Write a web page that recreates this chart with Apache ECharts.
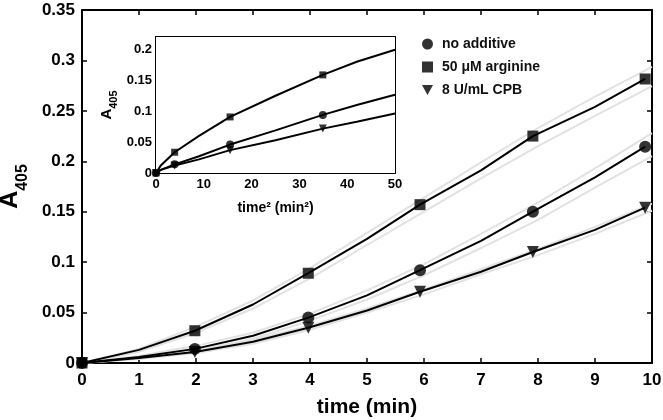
<!DOCTYPE html>
<html>
<head>
<meta charset="utf-8">
<script src="https://cdn.jsdelivr.net/npm/echarts@6/dist/echarts.min.js"></script>
<style>html,body{margin:0;padding:0;background:#fff}#c{width:663px;height:420px}</style>
</head>
<body>
<div id="c"></div>
<script>
// ---- main plot data (time in min, A405) ----
var markT = [0, 1.98, 3.97, 5.93, 7.91, 9.88];
var noAdd = [0, 0.014, 0.045, 0.092, 0.150, 0.2145];
var arg   = [0, 0.032, 0.089, 0.157, 0.225, 0.2816];
var cpb   = [0, 0.011, 0.035, 0.0707, 0.110, 0.154];

var lineT      = [0, 1, 1.98, 3, 3.97, 5, 5.93, 7, 7.91, 9, 9.88];
var noAddLine  = [0, 0.006, 0.014, 0.027, 0.045, 0.067, 0.092, 0.121, 0.150, 0.184, 0.2145];
var argLine    = [0, 0.013, 0.032, 0.058, 0.089, 0.123, 0.157, 0.191, 0.225, 0.254, 0.2816];
var cpbLine    = [0, 0.005, 0.011, 0.021, 0.035, 0.052, 0.0707, 0.0905, 0.110, 0.132, 0.154];

var bandT    = [0, 1, 2, 3, 4, 5, 6, 7, 8, 9, 10];
var argHi    = [0, 0.014, 0.036, 0.062, 0.094, 0.129, 0.164, 0.199, 0.233, 0.264, 0.2935];
var argLo    = [0, 0.011, 0.030, 0.054, 0.084, 0.117, 0.150, 0.183, 0.215, 0.245, 0.2746];
var noAddHi  = [0, 0.007, 0.017, 0.030, 0.049, 0.072, 0.098, 0.128, 0.159, 0.193, 0.228];
var noAddLo  = [0, 0.005, 0.012, 0.024, 0.042, 0.063, 0.087, 0.114, 0.142, 0.174, 0.205];
var cpbHi    = [0, 0.006, 0.013, 0.023, 0.037, 0.054, 0.073, 0.093, 0.113, 0.135, 0.158];
var cpbLo    = [0, 0.004, 0.010, 0.019, 0.033, 0.050, 0.068, 0.088, 0.107, 0.128, 0.151];

// ---- inset data (time^2 in min^2, A405) ----
var insT2      = [0, 3.9, 15.5, 34.9];
var insNoAdd   = [0, 0.014, 0.046, 0.094];
var insArg     = [0, 0.0336, 0.0907, 0.1587];
var insCpb     = [0, 0.012, 0.037, 0.0718];

var insLineT2    = [0, 1, 3.9, 9, 15.5, 25, 34.9, 42, 50];
var insNoAddLine = [0, 0.005, 0.014, 0.027, 0.046, 0.069, 0.094, 0.110, 0.1266];
var insArgLine   = [0, 0.012, 0.0336, 0.060, 0.0907, 0.125, 0.1587, 0.180, 0.1995];
var insCpbLine   = [0, 0.005, 0.012, 0.022, 0.037, 0.053, 0.0718, 0.083, 0.0962];

var names = ['no additive', '50 \u03bcM arginine', '8 U/mL CPB'];

function pairs(xs, ys){ return xs.map(function(x,i){ return [x, ys[i]]; }); }

var FONT = 'Liberation Sans, Arial, sans-serif';
var triPath = 'path://M0,0L10,0L5,9Z';

function axisCommon(show, fs, margin){
  return {
    axisLine: {show: true, onZero: false, lineStyle: {color: '#000', width: 2}},
    axisTick: {show: true, inside: true, length: 5, lineStyle: {color: '#000', width: 1.5}},
    axisLabel: {show: show, color: '#000', fontFamily: FONT, fontWeight: 'bold', fontSize: fs, margin: margin},
    splitLine: {show: false}
  };
}
function ax(extra, base){ return Object.assign({}, base, extra); }

function line(xi, yi, xs, ys, color, w, z){
  return {type: 'line', xAxisIndex: xi, yAxisIndex: yi, data: pairs(xs, ys), showSymbol: false, symbol: 'none',
    lineStyle: {color: color, width: w}, z: z, silent: true, animation: false};
}
function marks(name, xi, yi, xs, ys, symbol, size, rot){
  return {type: 'scatter', name: name, xAxisIndex: xi, yAxisIndex: yi, data: pairs(xs, ys), symbol: symbol,
    symbolSize: size, symbolRotate: rot || 0, itemStyle: {color: '#000'}, z: 5, animation: false};
}

var chart = echarts.init(document.getElementById('c'));
chart.setOption({
  animation: false,
  backgroundColor: '#fff',
  grid: [
    {left: 82, right: 11, top: 10, bottom: 57, containLabel: false, outerBoundsMode: 'none'},
    {left: 156, right: 268, top: 37, bottom: 247, containLabel: false, outerBoundsMode: 'none',
     backgroundColor: '#fff', show: true, borderWidth: 0, z: 3}
  ],
  legend: {
    orient: 'vertical', left: 417, top: 32, itemGap: 9, itemWidth: 11, itemHeight: 11,
    data: [
      {name: names[0], icon: 'circle'},
      {name: names[1], icon: 'rect'},
      {name: names[2], icon: triPath}
    ],
    textStyle: {color: '#111', fontFamily: FONT, fontWeight: 'bold', fontSize: 14, padding: [0,0,0,4]},
    selectedMode: false
  },
  xAxis: [
    ax({type: 'value', gridIndex: 0, min: 0, max: 10, interval: 1, position: 'bottom',
        name: 'time (min)', nameLocation: 'middle', nameGap: 34,
        nameTextStyle: {color: '#000', fontFamily: FONT, fontWeight: 'bold', fontSize: 21}}, axisCommon(true, 17, 9)),
    ax({type: 'value', gridIndex: 0, min: 0, max: 10, interval: 1, position: 'top'}, axisCommon(false, 17, 6)),
    ax({type: 'value', gridIndex: 1, min: 0, max: 50, interval: 10, position: 'bottom',
        name: 'time\u00b2 (min\u00b2)', nameLocation: 'middle', nameGap: 28,
        nameTextStyle: {color: '#000', fontFamily: FONT, fontWeight: 'bold', fontSize: 14}}, axisCommon(true, 13, 5)),
    ax({type: 'value', gridIndex: 1, min: 0, max: 50, interval: 10, position: 'top'}, axisCommon(false, 13, 4))
  ],
  yAxis: [
    ax({type: 'value', gridIndex: 0, min: 0, max: 0.35, interval: 0.05, position: 'left',
        name: '{a|A}{s|405}', nameLocation: 'middle', nameGap: 53, nameRotate: 90,
        nameTextStyle: {rich: {
          a: {color: '#000', fontFamily: FONT, fontWeight: 'bold', fontSize: 25, verticalAlign: 'bottom', lineHeight: 30},
          s: {color: '#000', fontFamily: FONT, fontWeight: 'bold', fontSize: 16, verticalAlign: 'bottom', lineHeight: 30, padding: [0,0,-8,0]}
        }}}, axisCommon(true, 17, 7)),
    ax({type: 'value', gridIndex: 0, min: 0, max: 0.35, interval: 0.05, position: 'right'}, axisCommon(false, 17, 6)),
    ax({type: 'value', gridIndex: 1, min: 0, max: 0.22, interval: 0.05, position: 'left',
        name: '{a|A}{s|405}', nameLocation: 'middle', nameGap: 42, nameRotate: 90,
        nameTextStyle: {rich: {
          a: {color: '#000', fontFamily: FONT, fontWeight: 'bold', fontSize: 15, verticalAlign: 'bottom', lineHeight: 20},
          s: {color: '#000', fontFamily: FONT, fontWeight: 'bold', fontSize: 11, verticalAlign: 'bottom', lineHeight: 20, padding: [0,0,-5,0]}
        }}}, axisCommon(true, 13, 4)),
    ax({type: 'value', gridIndex: 1, min: 0, max: 0.22, interval: 0.05, position: 'right'}, axisCommon(false, 13, 4))
  ],
  series: [
    line(0, 0, bandT, argHi, '#e2e2e2', 2, 1),
    line(0, 0, bandT, argLo, '#e2e2e2', 2, 1),
    line(0, 0, bandT, noAddHi, '#e2e2e2', 2, 1),
    line(0, 0, bandT, noAddLo, '#e2e2e2', 2, 1),
    line(0, 0, bandT, cpbHi, '#e2e2e2', 2, 1),
    line(0, 0, bandT, cpbLo, '#e2e2e2', 2, 1),
    line(0, 0, lineT, argLine, '#000', 2, 2),
    line(0, 0, lineT, noAddLine, '#000', 2, 2),
    line(0, 0, lineT, cpbLine, '#000', 2, 2),
    marks(names[0], 0, 0, markT, noAdd, 'circle', 12),
    marks(names[1], 0, 0, markT, arg, 'rect', 11),
    marks(names[2], 0, 0, markT, cpb, 'triangle', 12, 180),
    line(2, 2, insLineT2, insArgLine, '#000', 2, 4),
    line(2, 2, insLineT2, insNoAddLine, '#000', 2, 4),
    line(2, 2, insLineT2, insCpbLine, '#000', 2, 4),
    marks(names[0], 2, 2, insT2, insNoAdd, 'circle', 8),
    marks(names[1], 2, 2, insT2, insArg, 'rect', 7),
    marks(names[2], 2, 2, insT2, insCpb, 'triangle', 8, 180)
  ]
});
</script>
</body>
</html>
